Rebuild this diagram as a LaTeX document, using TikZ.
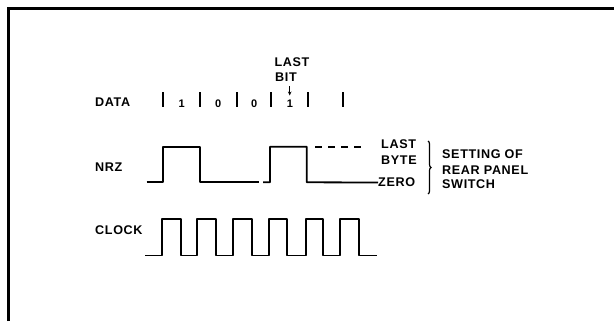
\documentclass[tikz,border=0pt]{standalone}
\usepackage{fontspec}
\newfontfamily\lblfont{Liberation Sans}[LetterSpace=5]
\usetikzlibrary{arrows.meta,decorations.pathreplacing}
\tikzset{
  lab/.style={font=\lblfont\bfseries\fontsize{12.6}{14}\selectfont, inner sep=0pt, anchor=west},
  labc/.style={lab, anchor=center},
  dig/.style={font=\lblfont\bfseries\fontsize{11}{12}\selectfont, inner sep=0pt},
  wave/.style={line width=1.8pt, line join=round},
  tickmark/.style={line width=1.9pt},
  frame/.style={line width=3pt},
}
\begin{document}
\begin{tikzpicture}[x=1pt,y=-1pt]
\useasboundingbox (0,0) rectangle (615,321);
\draw[frame] (8,321) -- (8,9) -- (614,9);

% DATA row
\node[lab] (data) at (95,101.7) {DATA};
\foreach \x in {163.3,200,236.7,271,307.7,343.3} \draw[tickmark] (\x,92) -- (\x,107);
\node[dig] (d1) at (181.7,103.5) {1};
\node[dig] (d2) at (218.3,103.5) {0};
\node[dig] (d3) at (254.3,103.5) {0};
\node[dig] (d4) at (290,103.5) {1};
\node[labc] (last) at (292,61.7) {LAST};
\node[labc] (bit) at (286,76.7) {BIT};
\coordinate (arrtop) at (289.7,86);
\coordinate (arrbot) at (289.7,95.5);
\draw[line width=1.1pt, -{Stealth[length=4pt,width=3.5pt]}] (arrtop) -- (arrbot);

% NRZ row
\node[lab] (nrz) at (95,166.7) {NRZ};
\node[lab] (lastb) at (381,144) {LAST};
\node[lab] (byte) at (381,160) {BYTE};
\node[lab] (zero) at (378,182.5) {ZERO};
\draw[wave] (146.7,182.3) -- (162.7,182.3) -- (162.7,146.7) -- (200,146.7) -- (200,182.3) -- (258.5,182.3);
\draw[wave] (263,182.3) -- (270,182.3) -- (270,146.7) -- (306.7,146.7) -- (306.7,182.3) -- (zero.west);
\coordinate (dashA) at (315,146.7);
\coordinate (dashB) at (361,146.7);
\draw[wave, dash pattern=on 6.5pt off 6.5pt] (dashA) -- (dashB);
\coordinate (brtop) at (428,141);
\coordinate (brbot) at (428,194);
\draw[line width=1.2pt, decorate, decoration={brace, amplitude=3pt}] (brtop) -- (brbot);
\node[lab] (setting) at (442,154.3) {SETTING OF};
\node[lab] (rear) at (442,170) {REAR PANEL};
\node[lab] (switch) at (442,184.3) {SWITCH};

% CLOCK row
\node[lab] (clock) at (95,230) {CLOCK};
\draw[wave] (145,255.5)
  -- (162.3,255.5) -- (162.3,218.7) -- (180.7,218.7) -- (180.7,255.5)
  -- (196.7,255.5) -- (196.7,218.7) -- (216,218.7) -- (216,255.5)
  -- (232.7,255.5) -- (232.7,218.7) -- (251.7,218.7) -- (251.7,255.5)
  -- (269.3,255.5) -- (269.3,218.7) -- (287.3,218.7) -- (287.3,255.5)
  -- (305.7,255.5) -- (305.7,218.7) -- (322.7,218.7) -- (322.7,255.5)
  -- (340,255.5) -- (340,218.7) -- (359,218.7) -- (359,255.5)
  -- (377.3,255.5);
\end{tikzpicture}
\end{document}
